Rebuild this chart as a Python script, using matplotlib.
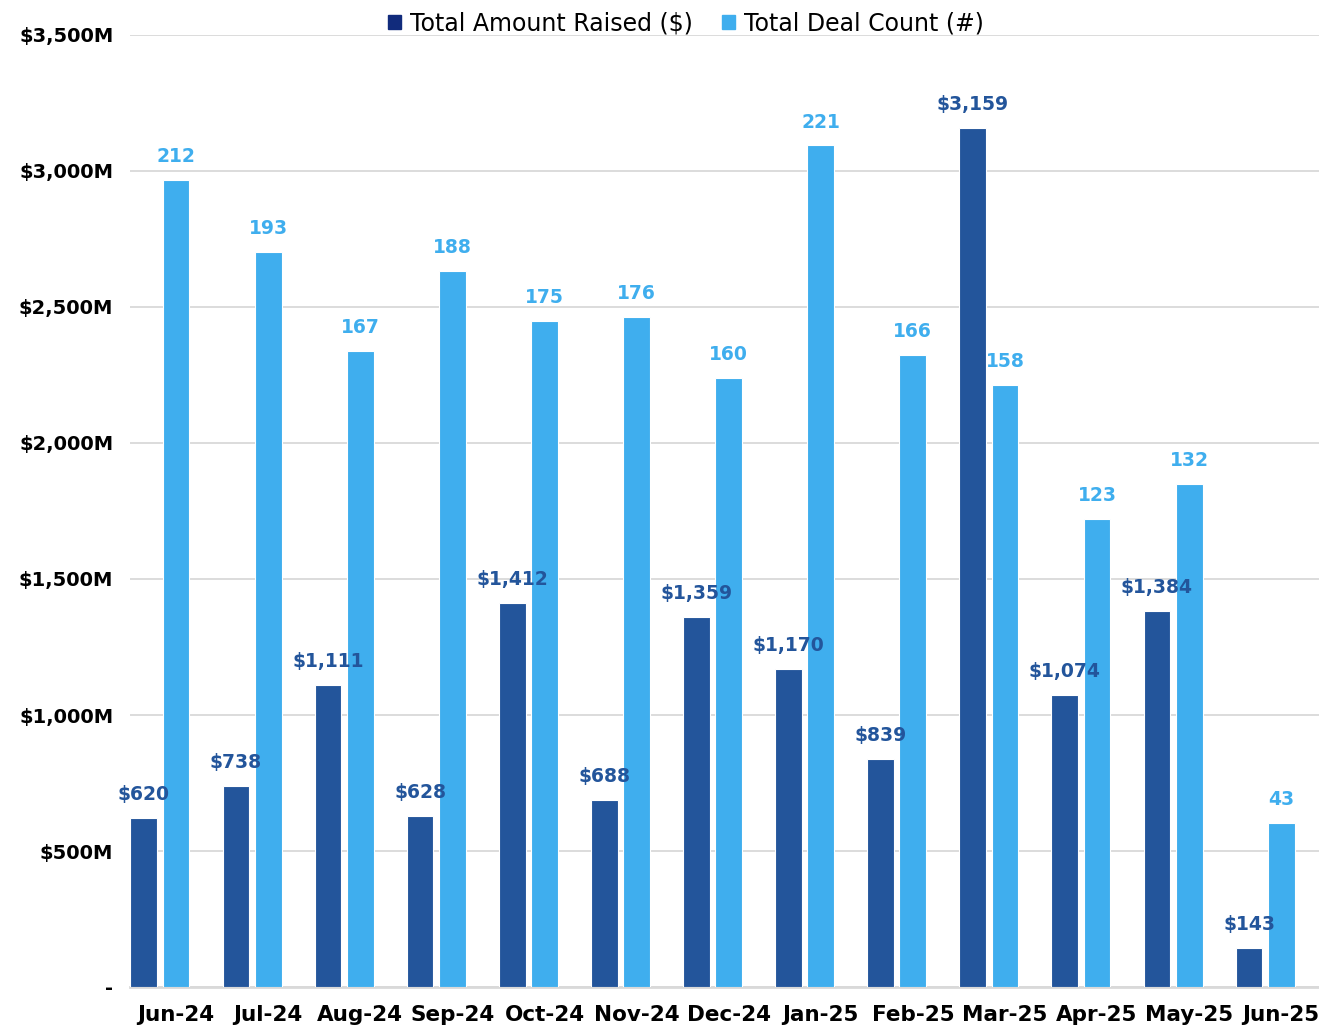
import numpy as np
import matplotlib.pyplot as plt
from matplotlib.patches import Patch

months = ["Jun-24", "Jul-24", "Aug-24", "Sep-24", "Oct-24", "Nov-24", "Dec-24",
          "Jan-25", "Feb-25", "Mar-25", "Apr-25", "May-25", "Jun-25"]
amount_raised = [620, 738, 1111, 628, 1412, 688, 1359, 1170, 839, 3159, 1074, 1384, 143]
deal_count = [212, 193, 167, 188, 175, 176, 160, 221, 166, 158, 123, 132, 43]
y_ticks = [0, 500, 1000, 1500, 2000, 2500, 3000, 3500]
y_tick_labels = ["-", "$500M", "$1,000M", "$1,500M", "$2,000M", "$2,500M", "$3,000M", "$3,500M"]

dark = "#23559B"
light = "#3FAEEE"
navy = "#112B7C"

plt.rcParams['font.family'] = ['DejaVu Sans']

fig = plt.figure(figsize=(13.19, 10.25), dpi=100)
ax = fig.add_axes([130 / 1319, 38 / 1025, 1 - 130 / 1319, (986 - 34) / 1025])
ax2 = ax.twinx()

x = np.arange(len(months))
w = 0.29
b1 = ax.bar(x - 0.35, amount_raised, width=w, color=dark, edgecolor="white", linewidth=0.8, zorder=3)
b2 = ax2.bar(x, deal_count, width=w, color=light, edgecolor="white", linewidth=0.8, zorder=3)

ax.set_ylim(0, 3500)
ax2.set_ylim(0, 250)
ax.set_xlim(-0.5, -0.5 + 1189 / 92.1)

ax.set_yticks(y_ticks)
ax.set_yticklabels(y_tick_labels, fontsize=14, fontweight="bold")
ax.set_xticks(x)
ax.set_xticklabels(months, fontsize=15.5, fontweight="bold")
ax.tick_params(axis="both", length=0)
ax.tick_params(axis="y", pad=12)
ax.tick_params(axis="x", pad=13)
ax2.set_yticks([])

ax.grid(axis="y", color="#D9D9D9", linewidth=1.3, zorder=0)
for s in ["top", "right", "left"]:
    ax.spines[s].set_visible(False)
    ax2.spines[s].set_visible(False)
ax.spines["bottom"].set_color("#D9D9D9")
ax.spines["bottom"].set_linewidth(2)
ax2.spines["bottom"].set_visible(False)

# labels drawn on the top axes so the light bars don't hide them
for rect, v in zip(b1, amount_raised):
    ax2.annotate(f"${v:,}", (rect.get_x() + rect.get_width() / 2, v), xycoords=ax.transData,
                 xytext=(0, 10), textcoords="offset points", ha="center", va="bottom",
                 fontsize=13.5, fontweight="bold", color=dark, zorder=5)
for rect, v in zip(b2, deal_count):
    ax2.annotate(f"{v}", (rect.get_x() + rect.get_width() / 2, v),
                 xytext=(0, 10), textcoords="offset points", ha="center", va="bottom",
                 fontsize=13.5, fontweight="bold", color=light, zorder=5)

handles = [Patch(color=navy, label="Total Amount Raised ($)"),
           Patch(color=light, label="Total Deal Count (#)")]
fig.legend(handles=handles, loc="upper center", bbox_to_anchor=(0.52, 1.01), ncol=2,
           frameon=False, fontsize=17, handlelength=0.55, handleheight=0.55,
           handletextpad=0.4, columnspacing=1.2)

fig.savefig("out.png", dpi=100)
